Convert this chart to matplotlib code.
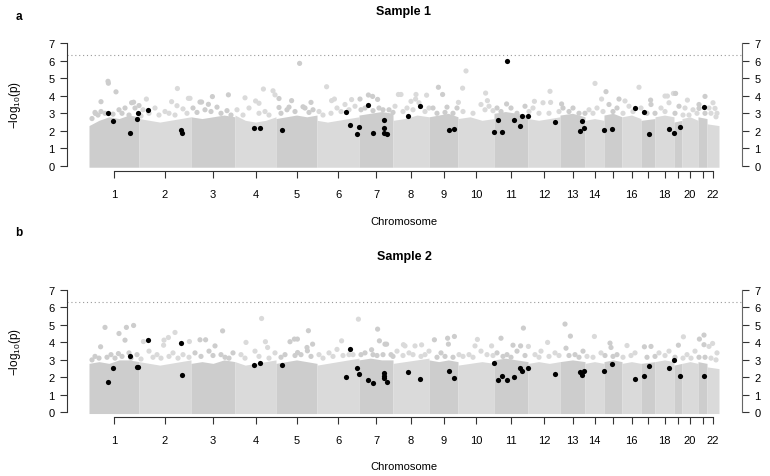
import numpy as np
import matplotlib
matplotlib.use('Agg')
import matplotlib.pyplot as plt

plt.rcParams['font.family'] = ['Liberation Sans', 'DejaVu Sans']
plt.rcParams['mathtext.default'] = 'regular'

# chromosome spans (Mb)
chrom_len = [250, 260, 220, 205, 205, 210, 170, 180, 145, 180, 170,
             160, 125, 95, 90, 95, 70, 95, 40, 80, 45, 60]
chrom_labels = ['1', '2', '3', '4', '5', '6', '7', '8', '9', '10', '11',
                '12', '13', '14', '', '16', '', '18', '', '20', '', '22']
threshold = 6.3

# upper edge of the dense block of SNPs, per chromosome
s1_band = [[2.3, 2.6, 2.8, 2.7, 2.9, 2.8], [2.7, 2.6, 2.5, 2.6, 2.7, 2.8],
           [2.8, 2.7, 2.8, 2.9, 2.8], [2.9, 2.6, 2.5, 2.6, 2.8],
           [2.7, 2.8, 2.9, 2.8, 2.9], [2.6, 2.5, 2.6, 2.7, 2.8],
           [2.9, 3.0, 3.1, 3.0], [2.6, 2.7, 2.9, 2.8], [2.8, 2.9, 3.0, 2.8],
           [2.7, 2.8, 2.6, 2.7], [3.0, 3.1, 3.0, 2.9], [2.7, 2.6, 2.7, 2.8],
           [2.9, 3.0, 2.8], [2.6, 2.7, 2.6], [2.9, 3.0, 2.8], [2.8, 2.9, 2.7],
           [2.6, 2.7], [2.8, 2.9, 2.8], [2.5, 2.6], [2.7, 2.8, 2.6],
           [2.8, 2.7], [2.4, 2.3]]
s2_band = [[2.8, 2.9, 2.8, 3.0, 3.0, 2.9], [2.9, 2.8, 2.7, 2.8, 2.9, 3.0],
           [2.8, 2.9, 2.8, 3.0, 2.9], [2.9, 2.7, 2.8, 2.9, 3.0],
           [2.8, 2.9, 3.0, 2.9, 2.8], [2.7, 2.8, 2.9, 3.0, 3.1],
           [3.0, 3.1, 3.0, 3.0], [2.8, 2.9, 3.0, 3.1], [3.0, 2.9, 3.0, 2.9],
           [2.7, 2.8, 2.9, 2.8], [3.0, 3.1, 3.0, 2.9], [2.8, 2.9, 2.8, 2.9],
           [2.9, 3.0, 2.9], [2.8, 2.9, 2.8], [2.9, 3.0, 2.9], [2.8, 2.9, 2.8],
           [2.8, 2.9], [2.9, 3.0, 2.9], [2.7, 2.8], [2.8, 2.9, 2.8],
           [2.9, 2.8], [2.6, 2.5]]

# scattered SNPs above the block: (genome position Mb, -log10 p)
s1_grey = [(95, 4.82), (97, 4.71), (135, 4.22), (60, 3.66), (32, 2.99),
           (213, 3.60), (223, 3.63), (287, 3.81), (250, 3.44), (442, 4.41),
           (413, 3.66), (497, 3.85), (505, 3.85), (440, 3.43), (555, 3.64),
           (563, 3.64), (597, 3.51), (617, 3.95), (697, 4.05), (780, 3.88),
           (833, 3.70), (850, 3.57), (872, 4.38), (920, 4.28), (930, 4.05),
           (950, 3.84), (950, 3.33), (1013, 3.72), (990, 3.20), (1053, 5.84),
           (1188, 4.51), (1110, 3.62), (1070, 3.37), (1213, 3.72), (1227, 3.81),
           (1313, 3.78), (1355, 3.81), (1397, 4.04), (1418, 3.96), (1443, 3.79),
           (1547, 4.07), (1560, 4.07), (1635, 4.07), (1633, 3.81), (1610, 3.68),
           (1688, 4.03), (1747, 4.48), (1768, 4.07), (1868, 4.43), (1885, 5.41),
           (1983, 4.15), (1992, 3.72), (1847, 3.62), (2088, 3.53), (2227, 3.68),
           (2305, 4.25), (2308, 3.62), (2363, 3.53), (2530, 4.70), (2585, 4.23),
           (2563, 3.81), (2650, 3.81), (2680, 3.70), (2750, 4.48), (2808, 3.75),
           (2880, 3.98), (2892, 3.98), (2922, 4.13), (2933, 4.13), (2992, 3.75),
           (3080, 3.96), (3130, 3.28), (3050, 3.28),
           (30, 3.05), (60, 3.1), (150, 3.2), (180, 3.3), (230, 3.3),
           (270, 3.2), (330, 3.3), (380, 3.1), (470, 3.25), (520, 3.3),
           (580, 3.2), (640, 3.35), (690, 3.15), (740, 3.2), (800, 3.3),
           (880, 3.1), (1000, 3.35), (1080, 3.3), (1120, 3.2), (1150, 3.1),
           (1240, 3.3), (1280, 3.5), (1330, 3.4), (1380, 3.3), (1450, 3.3),
           (1500, 3.2), (1530, 3.4), (1590, 3.3), (1650, 3.6), (1700, 3.3),
           (1720, 3.3), (1790, 3.35), (1840, 3.3), (1960, 3.5), (2000, 3.4),
           (2040, 3.3), (2110, 3.3), (2180, 3.4), (2220, 3.3), (2270, 3.6),
           (2370, 3.3), (2420, 3.3), (2500, 3.2), (2540, 3.3), (2600, 3.5),
           (2640, 3.3), (2700, 3.4), (2760, 3.3), (2810, 3.5), (2860, 3.3),
           (2900, 3.6), (2950, 3.4), (2980, 3.3), (3020, 3.2), (3050, 3.5),
           (3100, 3.3), (3120, 3.6), (3140, 3.0),
           (15, 2.7), (45, 2.9), (80, 3.0), (120, 2.95), (165, 3.0), (200, 2.9),
           (260, 2.85), (300, 3.0), (350, 2.9), (400, 3.0), (430, 2.9),
           (490, 3.0), (540, 3.05), (610, 3.1), (660, 3.0), (710, 2.9),
           (770, 2.9), (850, 3.0), (900, 2.9), (960, 3.0), (1030, 3.1),
           (1100, 3.05), (1170, 2.9), (1210, 3.0), (1260, 3.1), (1300, 3.2),
           (1360, 3.2), (1420, 3.15), (1470, 3.2), (1520, 3.05), (1570, 3.1),
           (1620, 3.2), (1680, 3.1), (1740, 3.0), (1780, 3.05), (1820, 3.0),
           (1870, 3.1), (1920, 3.0), (1980, 3.2), (2020, 3.15), (2060, 3.1),
           (2140, 3.0), (2200, 3.1), (2250, 3.0), (2300, 3.0), (2350, 3.1),
           (2400, 3.1), (2450, 3.0), (2480, 3.0), (2520, 3.0), (2570, 3.1),
           (2620, 3.1), (2670, 3.0), (2720, 3.1), (2790, 3.0), (2830, 3.0),
           (2880, 3.1), (2930, 3.0), (2970, 2.9), (3000, 2.9), (3040, 3.0),
           (3080, 3.0), (3110, 3.0), (3135, 2.8)]
s2_grey = [(80, 4.86), (150, 4.51), (187, 4.86), (223, 4.97), (180, 4.13),
           (58, 3.75), (147, 3.36), (272, 4.05), (375, 4.13), (397, 4.28),
           (430, 4.57), (373, 3.84), (502, 4.05), (555, 4.15), (583, 4.15),
           (630, 3.80), (668, 4.66), (785, 4.00), (863, 5.37), (882, 4.04),
           (893, 3.71), (1005, 4.04), (1027, 4.19), (1042, 4.19), (1097, 4.67),
           (1090, 3.71), (1092, 3.52), (1118, 3.90), (1043, 3.42), (1347, 5.33),
           (1443, 4.76), (1480, 3.90), (1488, 3.90), (1452, 4.09), (1263, 4.09),
           (1413, 3.58), (1572, 3.87), (1580, 3.80), (1630, 3.80), (1663, 3.86),
           (1727, 4.15), (1793, 4.24), (1827, 4.34), (1797, 3.90), (1942, 4.17),
           (1930, 3.80), (2013, 3.80), (2060, 4.24), (2172, 4.82), (2120, 3.84),
           (2158, 3.80), (2197, 3.77), (2293, 4.00), (2380, 5.05), (2407, 4.36),
           (2527, 4.34), (2385, 3.67), (2605, 3.96), (2610, 3.71), (2690, 3.82),
           (2777, 3.75), (2810, 3.77), (2947, 3.84), (2972, 4.32), (3052, 4.19),
           (3075, 4.42), (3075, 3.87), (3100, 3.77), (3118, 3.94),
           (30, 3.2), (110, 3.3), (200, 3.4), (240, 3.3), (300, 3.5),
           (340, 3.3), (420, 3.4), (470, 3.3), (530, 3.4), (600, 3.5),
           (660, 3.3), (720, 3.4), (760, 3.3), (830, 3.5), (930, 3.4),
           (980, 3.3), (1060, 3.3), (1150, 3.3), (1200, 3.4), (1240, 3.6),
           (1300, 3.3), (1380, 3.4), (1420, 3.3), (1510, 3.3), (1540, 3.5),
           (1600, 3.4), (1680, 3.3), (1700, 3.5), (1760, 3.4), (1850, 3.3),
           (1900, 3.3), (1960, 3.5), (2040, 3.4), (2090, 3.3), (2140, 3.5),
           (2230, 3.3), (2260, 3.5), (2330, 3.4), (2430, 3.3), (2470, 3.5),
           (2560, 3.4), (2640, 3.3), (2730, 3.4), (2850, 3.4), (2900, 3.5),
           (2990, 3.3), (3030, 3.5), (3140, 3.4),
           (15, 3.0), (50, 3.1), (90, 3.15), (130, 3.1), (165, 3.2), (210, 3.1),
           (260, 3.05), (320, 3.15), (360, 3.1), (400, 3.2), (445, 3.1),
           (500, 3.15), (560, 3.2), (620, 3.25), (680, 3.15), (700, 3.1),
           (780, 3.1), (850, 3.2), (900, 3.1), (960, 3.15), (1030, 3.25),
           (1110, 3.2), (1170, 3.1), (1220, 3.2), (1270, 3.25), (1320, 3.3),
           (1360, 3.3), (1440, 3.25), (1470, 3.3), (1520, 3.2), (1570, 3.25),
           (1620, 3.3), (1660, 3.2), (1740, 3.15), (1780, 3.2), (1820, 3.15),
           (1870, 3.2), (1920, 3.15), (1990, 3.3), (2020, 3.25), (2070, 3.2),
           (2110, 3.15), (2180, 3.25), (2250, 3.15), (2300, 3.2), (2350, 3.25),
           (2400, 3.25), (2450, 3.15), (2490, 3.2), (2520, 3.15), (2580, 3.25),
           (2620, 3.2), (2670, 3.15), (2710, 3.25), (2790, 3.15), (2830, 3.2),
           (2880, 3.25), (2930, 3.15), (2970, 3.1), (3010, 3.1), (3050, 3.15),
           (3080, 3.15), (3110, 3.1), (3135, 3.0)]

# highlighted SNPs (same positions in both samples)
black_pos = [93, 122, 207, 238, 243, 295, 460, 463, 827, 855, 967, 1283, 1307,
             1338, 1352, 1397, 1418, 1473, 1473, 1475, 1488, 1597, 1653, 1800,
             1823, 2027, 2045, 2067, 2088, 2125, 2157, 2163, 2197, 2332, 2455,
             2463, 2473, 2577, 2617, 2732, 2773, 2802, 2898, 2923, 2955, 3077]
s1_black = [3.00, 2.54, 1.88, 2.69, 3.03, 3.17, 2.07, 1.88, 2.16, 2.14, 2.03,
            3.07, 2.33, 1.82, 2.20, 3.47, 1.90, 2.60, 2.18, 1.90, 1.82, 2.83,
            3.43, 2.03, 2.09, 1.95, 2.62, 1.95, 5.99, 2.62, 2.29, 2.85, 2.86,
            2.50, 2.01, 2.54, 2.18, 2.07, 2.12, 3.28, 3.09, 1.84, 2.11, 1.90,
            2.24, 3.34]
s2_black = [1.74, 2.51, 3.20, 2.60, 2.62, 4.13, 3.98, 2.12, 2.70, 2.85, 2.70,
            2.01, 3.65, 2.54, 2.18, 1.85, 1.65, 2.24, 2.08, 1.99, 1.74, 2.31,
            1.88, 2.37, 1.99, 2.83, 1.84, 2.05, 1.84, 2.03, 2.56, 2.37, 2.52,
            2.18, 2.33, 2.16, 2.39, 2.39, 2.75, 1.91, 2.07, 2.64, 2.52, 2.97,
            2.07, 2.08]

shades = ['#cdcdcd', '#dadada']

starts = np.concatenate([[0], np.cumsum(chrom_len)[:-1]])
ends = np.cumsum(chrom_len)
centers = starts + np.array(chrom_len) / 2.0
mb_per_px = 5.0


def draw_panel(ax, band, grey, black_y, title, letter, label_y):
    for i in range(len(chrom_len)):
        xs = np.linspace(starts[i], ends[i], len(band[i]))
        ax.fill_between(xs, -0.07, band[i], color=shades[i % 2], lw=0, zorder=1)

    gx = np.array([g[0] for g in grey])
    gy = np.array([g[1] for g in grey])
    idx = np.searchsorted(ends, gx)
    gcol = [shades[k % 2] for k in idx]
    ax.scatter(gx, gy, s=14, c=gcol, linewidths=0, zorder=2, clip_on=False)

    ax.scatter(black_pos, black_y, s=14, c='black', linewidths=0, zorder=3,
               clip_on=False)

    ax.axhline(threshold, color='#999999', linestyle=(0, (1, 2.5)), lw=0.8)

    ax.set_xlim(-22 * mb_per_px, ends[-1] + 23 * mb_per_px)
    ax.set_xticks(centers)
    ax.set_xticklabels(chrom_labels)
    ax.set_yticks(range(8))
    ax.spines['top'].set_visible(False)
    ax.spines['left'].set_bounds(0, 7)
    ax.spines['right'].set_bounds(0, 7)
    ax.spines['bottom'].set_bounds(centers[0], centers[-1])
    ax.spines['left'].set_color('#333333')
    ax.spines['bottom'].set_color('#333333')
    ax.spines['right'].set_color('#666666')
    ax.tick_params(axis='x', length=5, width=0.8, pad=8, labelsize=8,
                   color='#333333')
    ax.tick_params(axis='y', which='both', left=True, right=True,
                   labelleft=True, labelright=True, labelsize=8, width=0.8,
                   length=5, pad=4, color='#333333')
    for t in ax.yaxis.get_ticklines()[1::2]:
        t.set_color('#666666')
    for s in ax.spines.values():
        s.set_linewidth(0.8)

    fig.text(404 / 770, 1 - label_y[0] / 477, title, ha='center', va='center',
             fontsize=9, fontweight='bold')
    fig.text(19 / 770, 1 - label_y[1] / 477, letter, ha='center', va='center',
             fontsize=8.5, fontweight='bold')
    fig.text(404 / 770, 1 - label_y[2] / 477, 'Chromosome', ha='center',
             va='center', fontsize=8)
    fig.text(15 / 770, 1 - label_y[3] / 477, r'$-log_{10}(p)$', ha='center',
             va='center', rotation=90, fontsize=8.5)


fig = plt.figure(figsize=(7.7, 4.77), dpi=100)
ax1 = fig.add_axes([67 / 770, 1 - 172 / 477, 675 / 770, 128 / 477])
ax1.set_ylim(-5 / 17.571, 7)
ax2 = fig.add_axes([67 / 770, 1 - 418.3 / 477, 675 / 770, 127.3 / 477])
ax2.set_ylim(-5 / 17.47, 7)

draw_panel(ax1, s1_band, s1_grey, s1_black, 'Sample 1', 'a', (12, 17, 222, 105))
draw_panel(ax2, s2_band, s2_grey, s2_black, 'Sample 2', 'b', (257, 233, 467, 352))

plt.savefig('out.png', dpi=100)
